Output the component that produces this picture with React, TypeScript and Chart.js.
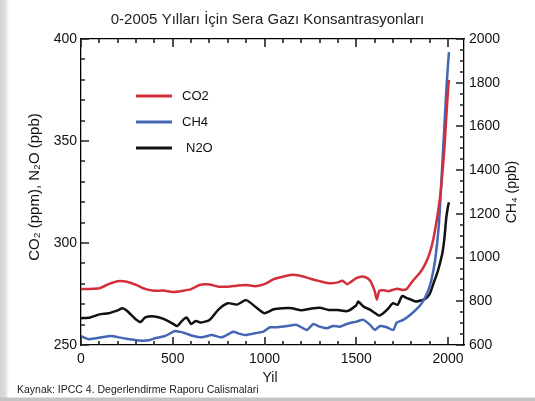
import React, { useEffect, useRef } from "react";
import { Chart, registerables } from "chart.js";

Chart.register(...registerables);

// ---------- text ----------
const TITLE = "0-2005 Yılları İçin Sera Gazı Konsantrasyonları";
const X_TITLE = "Yil";
const LEFT_TITLE = "CO₂ (ppm), N₂O (ppb)";
const RIGHT_TITLE = "CH₄ (ppb)";
const SOURCE = "Kaynak: IPCC 4. Degerlendirme Raporu Calismalari";

// ---------- ticks ----------
const X_TICKS = [0, 500, 1000, 1500, 2000];
const LEFT_TICKS = [250, 300, 350, 400];
const RIGHT_TICKS = [600, 800, 1000, 1200, 1400, 1600, 1800, 2000];

// ---------- data ----------
const CO2_YEARS = [
  0, 50, 100, 150, 200, 250, 300, 350, 400, 450, 500, 550, 600, 650, 700, 750, 800, 850, 900, 950,
  1000, 1050, 1100, 1150, 1200, 1250, 1300, 1350, 1400, 1425, 1450, 1475, 1500, 1525, 1550, 1575,
  1600, 1612, 1625, 1650, 1675, 1700, 1725, 1750, 1775, 1800, 1825, 1850, 1875, 1900, 1920, 1940,
  1950, 1960, 1970, 1980, 1990, 2000, 2005,
];
const CO2 = [
  277.4, 277.5, 277.8, 279.8, 281.3, 281.0, 279.5, 277.5, 276.6, 276.7, 276.0, 276.5, 277.4, 279.5,
  279.6, 278.6, 278.6, 279.1, 279.4, 278.8, 279.8, 282.3, 283.5, 284.4, 283.8, 282.5, 281.3, 280.3,
  280.7, 281.5, 279.8, 281.2, 282.8, 283.5, 283.2, 281.6, 276.5, 272.3, 276.5, 276.8, 276.4, 277.1,
  277.6, 277.0, 277.5, 280.5, 283.2, 285.8, 289.5, 295.0, 302.0, 312.0, 318.0, 325.0, 335.0, 346.0,
  361.0, 375.0, 380.0,
];

const CH4_YEARS = [
  0, 40, 75, 113, 167, 200, 267, 331, 370, 403, 458, 512, 540, 567, 612, 658, 712, 767, 830, 860,
  894, 948, 994, 1030, 1066, 1121, 1175, 1230, 1266, 1300, 1339, 1375, 1410, 1448, 1502, 1539, 1575,
  1602, 1629, 1666, 1702, 1720, 1756, 1790, 1830, 1860, 1890, 1910, 1930, 1950, 1965, 1980, 1993,
  2005,
];
const CH4 = [
  641, 627, 630, 635, 641, 636, 626, 620, 622, 631, 641, 664, 660, 654, 641, 635, 646, 635, 661, 652,
  646, 654, 661, 681, 681, 687, 692, 669, 696, 684, 677, 687, 684, 696, 707, 715, 692, 669, 687, 681,
  669, 702, 715, 735, 765, 795, 845, 900, 990, 1150, 1370, 1600, 1800, 1940,
];

const N2O_YEARS = [
  0, 50, 100, 150, 200, 225, 250, 300, 325, 350, 400, 450, 500, 525, 550, 575, 600, 625, 650, 700,
  750, 800, 850, 900, 950, 1000, 1050, 1100, 1150, 1200, 1250, 1300, 1350, 1400, 1450, 1500, 1510,
  1540, 1575, 1600, 1625, 1650, 1675, 1700, 1725, 1750, 1775, 1800, 1825, 1850, 1875, 1900, 1920,
  1940, 1950, 1960, 1970, 1980, 1990, 2000, 2005,
];
const N2O = [
  263.1, 263.5, 265.0, 265.6, 267.0, 268.0, 266.8, 262.5, 261.3, 263.5, 264.0, 262.8, 260.5, 259.3,
  261.8, 263.5, 260.3, 261.8, 261.0, 262.3, 267.5, 270.5, 269.8, 272.0, 268.8, 265.6, 267.5, 268.0,
  268.0, 267.0, 267.8, 268.3, 267.2, 267.2, 266.6, 269.5, 271.3, 268.8, 267.3, 265.8, 264.4, 265.8,
  268.0, 270.5, 269.7, 274.0, 273.0, 272.2, 271.3, 271.8, 272.5, 275.0, 280.0, 285.0, 288.0, 291.5,
  295.5, 302.0, 312.0, 318.0, 320.0,
];

const SERIES = [
  { label: "CO2", years: CO2_YEARS, values: CO2, color: "#d32f3a", axis: "y" },
  { label: "CH4", years: CH4_YEARS, values: CH4, color: "#4565b5", axis: "y2" },
  { label: "N2O", years: N2O_YEARS, values: N2O, color: "#111111", axis: "y" },
];

const SANS = "'Liberation Sans', Arial, sans-serif";

const decorPlugin = {
  id: "decor",
  afterDraw(chart: any) {
    const ctx = chart.ctx as CanvasRenderingContext2D;
    const { x, y, y2 } = chart.scales;
    const ca = chart.chartArea;
    ctx.save();
    ctx.strokeStyle = "#222222";
    ctx.lineWidth = 1.6;
    ctx.lineCap = "butt";
    ctx.beginPath();
    // x ticks (bottom and top), major 8px, minor 4px
    for (let v = 0; v <= x.max; v += 100) {
      const len = v % 500 === 0 ? 8 : 4;
      const px = Math.round(x.getPixelForValue(v));
      ctx.moveTo(px, ca.bottom);
      ctx.lineTo(px, ca.bottom - len);
      ctx.moveTo(px, ca.top);
      ctx.lineTo(px, ca.top + len);
    }
    for (let v = y.min; v <= y.max; v += 10) {
      const len = v % 50 === 0 ? 8 : 4;
      const py = Math.round(y.getPixelForValue(v));
      ctx.moveTo(ca.left, py);
      ctx.lineTo(ca.left + len, py);
    }
    for (let v = y2.min; v <= y2.max; v += 50) {
      const len = v % 200 === 0 ? 8 : 4;
      const py = Math.round(y2.getPixelForValue(v));
      ctx.moveTo(ca.right, py);
      ctx.lineTo(ca.right - len, py);
    }
    ctx.stroke();

    // legend
    const rows = [96, 122, 148];
    const textX = [182, 182, 186];
    ctx.font = `13px ${SANS}`;
    ctx.textBaseline = "middle";
    ctx.textAlign = "left";
    SERIES.forEach((s, i) => {
      ctx.strokeStyle = s.color;
      ctx.lineWidth = 3;
      ctx.beginPath();
      ctx.moveTo(136, rows[i]);
      ctx.lineTo(172, rows[i]);
      ctx.stroke();
      ctx.fillStyle = "#111";
      ctx.fillText(s.label, textX[i], rows[i]);
    });

    // axis titles
    ctx.fillStyle = "#111";
    ctx.textAlign = "center";
    ctx.textBaseline = "middle";
    ctx.font = `15px ${SANS}`;
    ctx.save();
    ctx.translate(35, 187);
    ctx.rotate(-Math.PI / 2);
    ctx.fillText(LEFT_TITLE, 0, 0);
    ctx.restore();
    ctx.font = `14px ${SANS}`;
    ctx.save();
    ctx.translate(512, 192);
    ctx.rotate(-Math.PI / 2);
    ctx.fillText(RIGHT_TITLE, 0, 0);
    ctx.restore();

    ctx.font = `14px ${SANS}`;
    ctx.fillText(X_TITLE, 270, 378);

    ctx.textAlign = "left";
    ctx.font = `10.5px ${SANS}`;
    ctx.fillStyle = "#222";
    ctx.fillText(SOURCE, 17, 390);
    ctx.restore();
  },
};

export default function App() {
  const ref = useRef<HTMLCanvasElement | null>(null);

  useEffect(() => {
    if (!ref.current) return;
    const tickFont = { family: SANS, size: 14 };
    const fmt = (v: any) => String(v);
    const grid = { drawOnChartArea: false, drawTicks: false };
    const border = { display: true, color: "#000", width: 1.3 };
    const chart = new Chart(ref.current, {
      type: "line",
      data: {
        datasets: SERIES.map((s) => ({
          label: s.label,
          data: s.years.map((yr, i) => ({ x: yr, y: s.values[i] })),
          borderColor: s.color,
          backgroundColor: s.color,
          borderWidth: 2.5,
          pointRadius: 0,
          tension: 0.2,
          fill: false,
          yAxisID: s.axis,
        })),
      },
      options: {
        responsive: false,
        animation: false,
        devicePixelRatio: 1,
        layout: { padding: 0 },
        plugins: {
          legend: { display: false },
          tooltip: { enabled: false },
          title: {
            display: true,
            text: TITLE,
            color: "#222",
            font: { family: SANS, size: 15, weight: "normal" },
            padding: { top: 11, bottom: 10 },
          },
        },
        scales: {
          x: {
            type: "linear",
            position: "bottom",
            min: 0,
            max: 2087,
            afterBuildTicks: (s: any) => {
              s.ticks = X_TICKS.map((v) => ({ value: v }));
            },
            afterFit: (s: any) => {
              s.height = 56;
            },
            ticks: { font: tickFont, color: "#111", padding: 6, maxRotation: 0, autoSkip: false, callback: fmt },
            grid,
            border,
          },
          x2: {
            type: "linear",
            position: "top",
            min: 0,
            max: 2087,
            afterBuildTicks: (s: any) => {
              s.ticks = X_TICKS.map((v) => ({ value: v }));
            },
            afterFit: (s: any) => {
              s.height = 0;
            },
            ticks: { display: false },
            grid,
            border,
          },
          y: {
            type: "linear",
            position: "left",
            min: 250,
            max: 400,
            afterBuildTicks: (s: any) => {
              s.ticks = LEFT_TICKS.map((v) => ({ value: v }));
            },
            afterFit: (s: any) => {
              s.width = 81;
            },
            ticks: { font: tickFont, color: "#111", padding: 4, callback: fmt },
            grid,
            border,
          },
          y2: {
            type: "linear",
            position: "right",
            min: 600,
            max: 2000,
            afterBuildTicks: (s: any) => {
              s.ticks = RIGHT_TICKS.map((v) => ({ value: v }));
            },
            afterFit: (s: any) => {
              s.width = 71;
            },
            ticks: { font: tickFont, color: "#111", padding: 5, callback: fmt },
            grid,
            border,
          },
        },
      },
      plugins: [decorPlugin],
    } as any);
    return () => chart.destroy();
  }, []);

  return (
    <div
      style={{
        position: "fixed",
        left: 0,
        top: 0,
        width: 535,
        height: 401,
        background:
          "linear-gradient(to top, #c4c4c4 0px, #c4c4c4 3px, rgba(255,255,255,0) 4px), linear-gradient(to right, #d2d2d2 0px, #dcdcdc 5px, #ffffff 9px)",
      }}
    >
      <canvas ref={ref} width={535} height={401} style={{ display: "block" }} />
    </div>
  );
}
